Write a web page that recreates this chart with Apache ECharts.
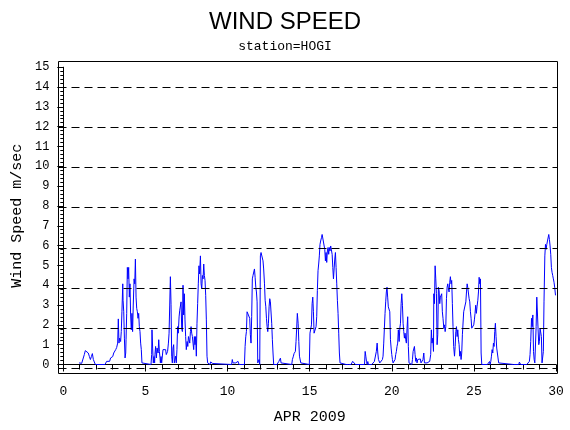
<!DOCTYPE html>
<html>
<head>
<meta charset="utf-8">
<title>WIND SPEED</title>
<script src="https://cdn.jsdelivr.net/npm/echarts@6/dist/echarts.min.js"></script>
<style>
html, body { margin: 0; padding: 0; background: #fff; }
#chart { width: 570px; height: 430px; }
</style>
</head>
<body>
<div id="chart"></div>
<script>
var chartTitle = "WIND SPEED";
var stationText = "station=HOGI";
var xAxisName = "APR 2009";
var yAxisName = "Wind Speed m/sec";
var dayLabels = [0, 5, 10, 15, 20, 25, 30];
var gridLevels = [0, 2, 4, 6, 8, 10, 12, 14];

// [day of month, wind speed m/sec]
var windDays1to7 = [[0.96,0.08],[1.12,0.06],[1.24,0.08],[1.28,0.5],[1.34,0.7],[1.40,0.6],[1.46,0.66],[1.52,0.58],[1.59,0.4],[1.65,0.25],[1.71,0.4],[1.77,0.55],[1.83,0.25],[1.89,0.28],[1.95,0],[2.54,0],[2.58,0.08],[2.64,0.16],[2.70,0.08],[2.76,0.25],[2.82,0.16],[2.88,0.33],[2.94,0.25],[3.01,0.4],[3.07,0.58],[3.13,0.58],[3.19,0.75],[3.25,0.86],[3.31,1.08],[3.35,2.3],[3.39,1.08],[3.43,1.33],[3.49,1.16],[3.53,1.66],[3.57,2.66],[3.62,4.07],[3.64,3.24],[3.68,2.66],[3.72,1.33],[3.76,0.33],[3.80,0.58],[3.82,1.25],[3.86,2.58],[3.90,4.9],[3.94,4.32],[3.98,4.9],[4.02,3.4],[4.06,4.07],[4.10,2.5],[4.14,1.75],[4.18,2.58],[4.22,1.66],[4.26,3.0],[4.31,4.32],[4.35,4.07],[4.39,5.32],[4.43,3.4],[4.47,2.83],[4.51,2.66],[4.55,2.33],[4.59,2.58],[4.63,1.91],[4.67,1.66],[4.71,1.08],[4.75,0.75],[4.79,0.08],[4.83,0],[5.34,0],[5.38,0.5],[5.40,1.75],[5.44,0.83],[5.48,0.08],[5.52,0.4],[5.56,0.08],[5.58,0.5],[5.62,0.91],[5.67,0.33],[5.71,0.83],[5.73,0.91],[5.77,0.58],[5.81,1.25],[5.85,0.66],[5.89,0.33],[5.91,0.08],[5.95,0.4],[5.99,0.08],[6.03,0],[6.07,0.75],[6.11,0.66],[6.15,0.75],[6.19,0.66],[6.23,0.75],[6.27,0.5],[6.31,0.58],[6.35,0.66],[6.40,1.08],[6.44,1.58],[6.48,3.0],[6.52,4.43],[6.56,3.04],[6.60,0.42],[6.64,0.08],[6.68,0.83],[6.72,1.0],[6.76,0.08],[6.84,0.42],[6.88,0.08],[6.92,0.75],[6.96,1.91],[7.00,1.58],[7.05,2.4],[7.09,2.74]];

var windDays7to14 = [[7.11,2.74],[7.17,3.16],[7.21,1.83],[7.25,1.66],[7.29,4.0],[7.33,2.5],[7.37,3.57],[7.41,2.25],[7.45,1.41],[7.49,0.75],[7.54,1.16],[7.58,0.91],[7.62,1.41],[7.66,1.25],[7.70,1.08],[7.74,1.66],[7.78,1.91],[7.82,1.58],[7.86,1.41],[7.90,1.08],[7.94,0.75],[7.98,1.41],[8.02,1.0],[8.06,1.41],[8.10,0.42],[8.14,2.08],[8.18,3.07],[8.22,4.07],[8.26,4.98],[8.30,4.57],[8.35,5.48],[8.39,4.07],[8.43,3.82],[8.47,4.49],[8.51,4.32],[8.55,5.07],[8.59,4.49],[8.63,4.24],[8.67,3.49],[8.71,2.25],[8.75,0.42],[8.79,0.08],[8.83,0],[8.93,0],[8.97,0.13],[9.04,0.08],[9.10,0.05],[9.14,0],[10.25,0],[10.29,0.25],[10.33,0.08],[10.42,0.12],[10.50,0.08],[10.58,0.15],[10.64,0.16],[10.70,0],[11.03,0],[11.07,0.91],[11.11,1.4],[11.15,1.66],[11.19,2.66],[11.23,2.58],[11.27,2.5],[11.31,2.44],[11.35,2.33],[11.39,1.5],[11.43,1.08],[11.47,2.41],[11.51,4.32],[11.55,4.49],[11.59,4.43],[11.64,4.82],[11.68,4.4],[11.72,3.9],[11.76,3.66],[11.80,3.16],[11.84,0.08],[11.88,0],[11.92,0.25],[11.96,0],[12.00,5.48],[12.04,5.65],[12.08,5.73],[12.12,5.65],[12.16,5.23],[12.20,4.82],[12.25,4.07],[12.29,3.24],[12.33,2.91],[12.37,2.33],[12.41,1.91],[12.45,1.66],[12.49,2.08],[12.53,2.91],[12.57,3.32],[12.61,3.16],[12.65,3.07],[12.69,2.08],[12.73,1.25],[12.77,0.58],[12.81,0],[13.01,0],[13.06,0.08],[13.12,0.15],[13.18,0.22],[13.22,0.32],[13.26,0.08],[13.30,0],[13.91,0],[13.95,0.25],[14.01,0.42],[14.05,0.55],[14.09,0.45],[14.13,0.66],[14.17,1.16],[14.21,1.83],[14.25,2.58],[14.30,2.08],[14.34,1.16],[14.38,0.42],[14.42,0.5],[14.46,0.08],[14.50,0]];

var windDays14to22 = [[14.98,0],[15.02,1.58],[15.06,1.66],[15.11,2.0],[15.15,3.07],[15.19,3.4],[15.23,2.66],[15.27,1.58],[15.31,1.66],[15.35,1.58],[15.39,1.91],[15.43,2.41],[15.47,3.74],[15.51,4.73],[15.55,5.07],[15.59,5.48],[15.63,6.06],[15.67,6.23],[15.72,6.4],[15.76,6.56],[15.80,6.64],[15.84,6.64],[15.88,6.48],[15.92,5.81],[15.96,5.23],[16.00,5.65],[16.04,5.15],[16.08,5.73],[16.12,5.9],[16.16,5.56],[16.20,5.9],[16.24,5.73],[16.28,5.98],[16.32,6.06],[16.37,5.56],[16.41,4.9],[16.45,4.32],[16.49,4.82],[16.53,5.32],[16.57,5.65],[16.61,4.9],[16.65,4.07],[16.69,3.24],[16.73,2.58],[16.77,1.58],[16.81,0.58],[16.85,0.08],[16.89,0],[17.22,0],[17.26,0.08],[17.37,0],[17.52,0],[17.56,0.08],[17.62,0.16],[17.66,0.22],[17.70,0.25],[17.74,0.12],[17.79,0],[18.34,0],[18.38,0.66],[18.42,0.42],[18.46,0.16],[18.50,0],[18.54,0.15],[18.58,0],[18.78,0],[18.82,0.08],[18.88,0.08],[18.94,0.15],[19.00,0.25],[19.06,0.66],[19.11,1.08],[19.15,0.58],[19.19,0.25],[19.23,0.15],[19.27,0.08],[19.31,0],[19.35,0],[19.39,0.08],[19.43,0.25],[19.47,0.42],[19.51,1.08],[19.55,1.83],[19.59,2.58],[19.63,3.16],[19.67,3.66],[19.71,3.9],[19.75,3.4],[19.79,2.91],[19.84,2.83],[19.88,2.66],[19.92,1.25],[19.96,0.83],[20.00,0.5],[20.04,0.25],[20.08,0.08],[20.12,0.16],[20.16,0.08],[20.20,0.25],[20.24,0.5],[20.28,0.66],[20.32,0.91],[20.36,1.08],[20.40,1.75],[20.45,1.16],[20.49,1.83],[20.53,2.08],[20.57,3.07],[20.61,3.57],[20.65,2.99],[20.69,2.08],[20.73,1.66],[20.77,1.33],[20.81,1.58],[20.85,1.25],[20.89,1.08],[20.93,1.83],[20.97,2.41],[21.01,0.91],[21.05,0.08],[21.09,0],[21.22,0],[21.26,0.25],[21.30,0.66],[21.34,0.75],[21.38,0.91],[21.42,0.5],[21.46,0.16],[21.50,0.33],[21.54,0.08],[21.58,0.25],[21.62,0.22],[21.66,0.33],[21.70,0.16],[21.74,0.28],[21.78,0.08],[21.82,0],[21.86,0],[21.90,0.25],[21.95,0.58],[21.99,0.08],[22.11,0],[22.15,0.08],[22.19,0],[22.23,0.12],[22.27,0],[22.31,0.16]];

var windDays22to30 = [[22.33,0.08],[22.37,0.5],[22.41,1.75],[22.45,1.08],[22.50,1.33],[22.54,0.66],[22.56,3.57],[22.60,3.07],[22.64,4.98],[22.68,4.32],[22.72,3.57],[22.76,1.0],[22.80,1.5],[22.84,3.9],[22.88,3.74],[22.92,3.07],[22.96,3.4],[23.00,3.32],[23.04,3.57],[23.08,2.66],[23.12,2.33],[23.17,1.83],[23.21,2.0],[23.25,1.66],[23.29,1.91],[23.33,3.32],[23.37,3.9],[23.41,4.07],[23.45,3.82],[23.49,3.66],[23.53,4.15],[23.57,4.43],[23.61,4.07],[23.65,4.24],[23.69,3.07],[23.73,1.91],[23.77,0.91],[23.82,0.42],[23.86,0.91],[23.90,1.66],[23.94,1.91],[23.98,1.41],[24.02,1.75],[24.06,1.25],[24.10,1.0],[24.14,0.42],[24.18,0.66],[24.22,0.25],[24.26,0.58],[24.30,1.5],[24.34,1.58],[24.38,2.66],[24.42,2.7],[24.46,2.66],[24.51,3.16],[24.55,3.66],[24.59,4.07],[24.63,3.87],[24.67,3.82],[24.71,3.32],[24.75,3.16],[24.79,2.66],[24.83,2.33],[24.87,1.83],[24.91,1.75],[24.95,1.83],[24.99,2.0],[25.03,2.25],[25.07,2.58],[25.11,2.99],[25.15,2.58],[25.19,2.91],[25.24,3.24],[25.28,3.66],[25.32,4.4],[25.36,4.07],[25.40,4.32],[25.44,0.58],[25.48,0],[25.82,0],[25.89,0.08],[25.95,0.15],[25.99,0],[26.03,0.16],[26.07,0.42],[26.11,0.75],[26.15,0.58],[26.19,1.08],[26.23,0.91],[26.27,1.66],[26.31,2.08],[26.35,1.41],[26.39,0.83],[26.43,0.58],[26.47,0.33],[26.51,0.08],[26.55,0],[27.41,0],[27.45,0.08],[27.49,0],[27.73,0],[27.77,0.12],[27.81,0.05],[27.85,0],[28.22,0],[28.26,0.08],[28.34,0.08],[28.38,0.16],[28.42,0.5],[28.46,1.16],[28.51,2.33],[28.55,1.91],[28.59,2.5],[28.63,0.66],[28.67,0.25],[28.71,0.08],[28.75,0.16],[28.79,1.91],[28.83,3.4],[28.87,3.49],[28.91,1.75],[28.95,1.0],[28.99,1.16],[29.03,1.83],[29.07,1.75],[29.11,1.41],[29.15,0.08],[29.19,0],[29.23,0.66],[29.27,3.16],[29.32,5.48],[29.36,6.06],[29.40,5.81],[29.44,6.06],[29.48,6.23],[29.52,6.31],[29.56,6.56],[29.60,6.31],[29.64,5.98],[29.68,5.56],[29.72,4.9],[29.76,4.65],[29.80,4.49],[29.84,4.32],[29.88,4.15],[29.92,3.9],[29.97,3.49]];

var windSpeed = windDays1to7.concat(windDays7to14, windDays14to22, windDays22to30);

var monoFont = "Liberation Mono";
var chart = echarts.init(document.getElementById("chart"), null, { renderer: "canvas" });

chart.setOption({
    animation: false,
    backgroundColor: "#fff",
    title: [
        { text: chartTitle, left: "center", top: 5,
          textStyle: { fontFamily: "Liberation Sans", fontSize: 24, fontWeight: "normal", color: "#000" } },
        { text: stationText, left: "center", top: 35,
          textStyle: { fontFamily: monoFont, fontSize: 13, fontWeight: "normal", color: "#000" } }
    ],
    grid: [
        { left: 63.3, right: 14, top: 67.2, bottom: 61.7 },
        { left: 58.5, right: 12.5, top: 61.5, bottom: 56.5, show: true, borderColor: "#000", borderWidth: 1, backgroundColor: "transparent" }
    ],
    xAxis: [
        {
            type: "value", gridIndex: 0, min: 0, max: 30, interval: 5, offset: 5.5,
            name: xAxisName, nameLocation: "middle", nameGap: 40,
            nameTextStyle: { fontFamily: monoFont, fontSize: 15, color: "#000" },
            axisLine: { show: true, lineStyle: { color: "#000", width: 1 } },
            axisTick: { show: true, inside: false, length: 7, lineStyle: { color: "#000" } },
            minorTick: { show: true, splitNumber: 5, length: 5, lineStyle: { color: "#000" } },
            axisLabel: {
                margin: 15, fontFamily: monoFont, fontSize: 13, color: "#000",
                formatter: function (v) { return dayLabels.indexOf(v) >= 0 ? String(v) : ""; }
            },
            splitLine: { show: false }
        },
        { type: "value", gridIndex: 1, min: 0, max: 1, show: false }
    ],
    yAxis: [
        {
            type: "value", gridIndex: 0, min: 0, max: 15, interval: 1, offset: 4.8,
            name: yAxisName, nameLocation: "middle", nameGap: 33, nameRotate: 90,
            nameTextStyle: { fontFamily: monoFont, fontSize: 15, color: "#000" },
            axisLine: { show: true, lineStyle: { color: "#000", width: 1 } },
            axisTick: { show: true, inside: false, length: 6, lineStyle: { color: "#000" } },
            minorTick: { show: true, splitNumber: 5, length: 3, lineStyle: { color: "#000" } },
            axisLabel: { margin: 9, fontFamily: monoFont, fontSize: 12, color: "#000" },
            splitLine: { show: false }
        },
        { type: "value", gridIndex: 1, min: -0.284, max: 15.309, show: false }
    ],
    series: [
        {
            name: "grid",
            type: "line",
            xAxisIndex: 1,
            yAxisIndex: 1,
            data: [],
            silent: true,
            markLine: {
                silent: true,
                symbol: ["none", "none"],
                label: { show: false },
                lineStyle: { color: "#000", width: 1, type: [8, 5] },
                data: gridLevels.map(function (v) { return { yAxis: v }; })
            }
        },
        {
            name: "Wind Speed",
            type: "line",
            xAxisIndex: 0,
            yAxisIndex: 0,
            data: windSpeed,
            showSymbol: false,
            symbol: "none",
            lineStyle: { color: "#0000ff", width: 1 },
            itemStyle: { color: "#0000ff" },
            z: 3
        }
    ]
});
</script>
</body>
</html>
